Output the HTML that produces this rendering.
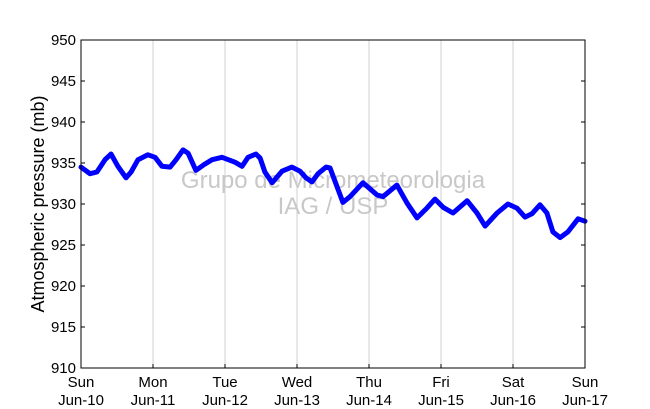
<!DOCTYPE html>
<html><head><meta charset="utf-8"><style>body{margin:0;background:#fff}svg{display:block;font-family:"Liberation Sans",sans-serif}</style></head>
<body>
<svg id="chart" width="650" height="409" viewBox="0 0 650 409">
<rect x="0" y="0" width="650" height="409" fill="#fff"/>
<g id="grid"></g>
<g id="ticks"></g>
<text x="333" y="188" text-anchor="middle" font-size="24" fill="#c8c8c8">Grupo de Micrometeorologia</text>
<text x="333" y="214" text-anchor="middle" font-size="24" fill="#c8c8c8">IAG / USP</text>
<path id="series" fill="none" stroke="#0000ff" stroke-width="5" stroke-linejoin="round" stroke-linecap="round"/>
<rect x="81" y="40" width="504" height="328" fill="none" stroke="#000" stroke-width="1"/>
<text transform="translate(44,204) rotate(-90)" text-anchor="middle" font-size="18">Atmospheric pressure (mb)</text>
</svg>
<script>
const hours=[0,3,5.3,8,10,12.3,15,16.7,19,22.3,24.7,27,29.7,31.7,34,35.7,38.3,41,43.7,47,51.3,53.7,55.7,58.3,59.7,61.3,63.7,67,70.3,73,75,77,79,81.7,83,87.3,89.7,94,98.7,100.7,105.3,108.7,112,115.3,118,120.7,124,128.7,132,134.7,138.7,142.3,145.3,148,150.3,153,155.3,157.3,159.7,162.3,165.7,168];
const pressure=[934.5,933.7,933.9,935.4,936.1,934.6,933.2,933.9,935.4,936.0,935.7,934.6,934.5,935.4,936.6,936.2,934.1,934.8,935.4,935.7,935.1,934.6,935.7,936.1,935.6,933.9,932.6,934.0,934.5,934.0,933.2,932.7,933.7,934.5,934.4,930.2,930.9,932.6,931.1,930.9,932.3,930.1,928.3,929.5,930.6,929.6,928.9,930.4,928.9,927.3,928.9,930.0,929.5,928.4,928.8,929.9,928.9,926.6,925.9,926.6,928.2,927.9];
const yTicks=[910,915,920,925,930,935,940,945,950];
const dayLabels=["Sun","Mon","Tue","Wed","Thu","Fri","Sat","Sun"];
const dateLabels=["Jun-10","Jun-11","Jun-12","Jun-13","Jun-14","Jun-15","Jun-16","Jun-17"];
const X0=81,X1=585,Y0=368,Y1=40;
const xs=h=>X0+(h/168)*(X1-X0);
const ys=p=>Y0-(p-910)/40*(Y0-Y1);
const NS="http://www.w3.org/2000/svg";
const grid=document.getElementById('grid'),ticks=document.getElementById('ticks');
function mk(tag,attrs,parent){const e=document.createElementNS(NS,tag);for(const k in attrs)e.setAttribute(k,attrs[k]);parent.appendChild(e);return e;}
dayLabels.forEach((d,i)=>{
  const x=xs(i*24);
  if(i>0&&i<7){const g=mk('line',{x1:x,x2:x,y1:Y1,y2:Y0,stroke:'#d0d0d0','stroke-width':1},grid);
  
  }
  const t1=mk('line',{x1:x,x2:x,y1:Y0,y2:Y0-4,stroke:'#000'},ticks);
  
  
  const t=mk('text',{x:x,y:387,'text-anchor':'middle','font-size':15},ticks);
  
  
  t.textContent=d;
  const t2=mk('text',{x:x,y:405,'text-anchor':'middle','font-size':15},ticks);
  
  
  t2.textContent=dateLabels[i];
});
yTicks.forEach(v=>{
  const y=ys(v);
  const a=mk('line',{x1:X0,x2:X0+4,y1:y,y2:y,stroke:'#000'},ticks);
  
  
  const b=mk('line',{x1:X1,x2:X1-4,y1:y,y2:y,stroke:'#000'},ticks);
  
  
  const t=mk('text',{x:X0-5,y:y+5,'text-anchor':'end','font-size':15},ticks);
  
  
  t.textContent=v;
});
document.getElementById('series').setAttribute('d',hours.map((h,i)=>(i?'L':'M')+xs(h).toFixed(1)+','+ys(pressure[i]).toFixed(1)).join(' '));
</script>
</body></html>
